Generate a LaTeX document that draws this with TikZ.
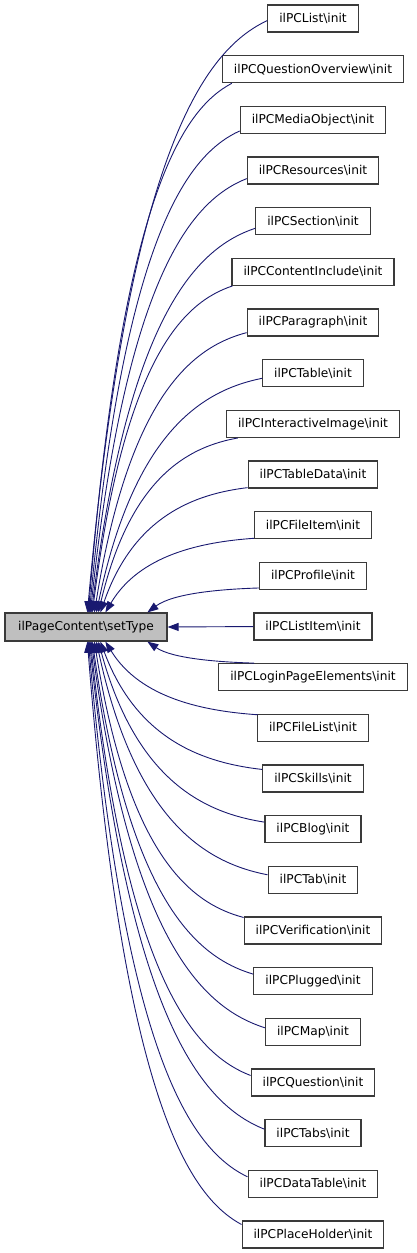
\documentclass[tikz,border=0pt]{standalone}
\usepackage{fontspec}
\setmainfont{DejaVu Sans}
\usetikzlibrary{arrows.meta,calc}
\definecolor{edgeblue}{HTML}{191970}
\definecolor{boxline}{HTML}{3A3A3A}
\definecolor{mainfill}{HTML}{BFBFBF}
\begin{document}
\begin{tikzpicture}[x=1pt,y=-1pt,
  fn/.style={draw=boxline, line width=1.2pt, fill=white, minimum height=27pt,
    inner xsep=11.5pt, inner ysep=0pt, font=\fontsize{12.2}{14}\selectfont, text=black},
  mainbox/.style={fn, fill=mainfill, minimum width=162pt, minimum height=28pt},
  edge/.style={draw=edgeblue, line width=0.9pt, -{Triangle[length=11pt,width=8pt]}}]
\useasboundingbox (0,0) rectangle (416,1253);
\node[mainbox] (main) at (86,627) {ilPageContent\textbackslash setType};
\foreach \i/\t in {1/ilPCList, 2/ilPCQuestionOverview, 3/ilPCMediaObject,
  4/ilPCResources, 5/ilPCSection, 6/ilPCContentInclude, 7/ilPCParagraph,
  8/ilPCTable, 9/ilPCInteractiveImage, 10/ilPCTableData, 11/ilPCFileItem,
  12/ilPCProfile, 13/ilPCListItem, 14/ilPCLoginPageElements, 15/ilPCFileList,
  16/ilPCSkills, 17/ilPCBlog, 18/ilPCTab, 19/ilPCVerification, 20/ilPCPlugged,
  21/ilPCMap, 22/ilPCQuestion, 23/ilPCTabs, 24/ilPCDataTable, 25/ilPCPlaceHolder}
  \node[fn] (n\i) at (313,{18.5+(\i-1)*50.67}) {\t\textbackslash init};
% upper edges
\foreach \i/\dx/\dy/\tx in {1/0/12/88, 2/10/0/89, 3/0/3/90, 4/0/6/91, 5/0/7/92,
  6/1/0/93, 7/0/4/95, 8/0/9/97, 9/12/0/99, 10/0/1/101, 11/0/1/106, 12/0/2/148}
  \draw[edge] let \p1=($(n\i.south west)+(\dx,-\dy)$), \p2=($(main.north west)+(\tx-5,0)$) in
    (\p1) .. controls ({\x1-0.35*(\x1-\x2)},{\y1+0.05*(\y2-\y1)})
             and ({\x2+0.23*(\x1-\x2)},{\y1+0.22*(\y2-\y1)}) .. (\p2);
% lower edges
\foreach \i/\dx/\dy/\tx in {14/36/0/148, 15/1/1/106, 16/0/5/101, 17/0/7/99, 18/0/9/97,
  19/0/1/95, 20/0/7/93, 21/0/10/92, 22/0/7/91, 23/0/10/90, 24/0/7/89, 25/0/4/88}
  \draw[edge] let \p1=($(n\i.north west)+(\dx,\dy)$), \p2=($(main.south west)+(\tx-5,0)$) in
    (\p1) .. controls ({\x1-0.35*(\x1-\x2)},{\y1+0.05*(\y2-\y1)})
             and ({\x2+0.23*(\x1-\x2)},{\y1+0.22*(\y2-\y1)}) .. (\p2);
\draw[edge] (n13.west) -- (main.east);
\end{tikzpicture}
\end{document}
